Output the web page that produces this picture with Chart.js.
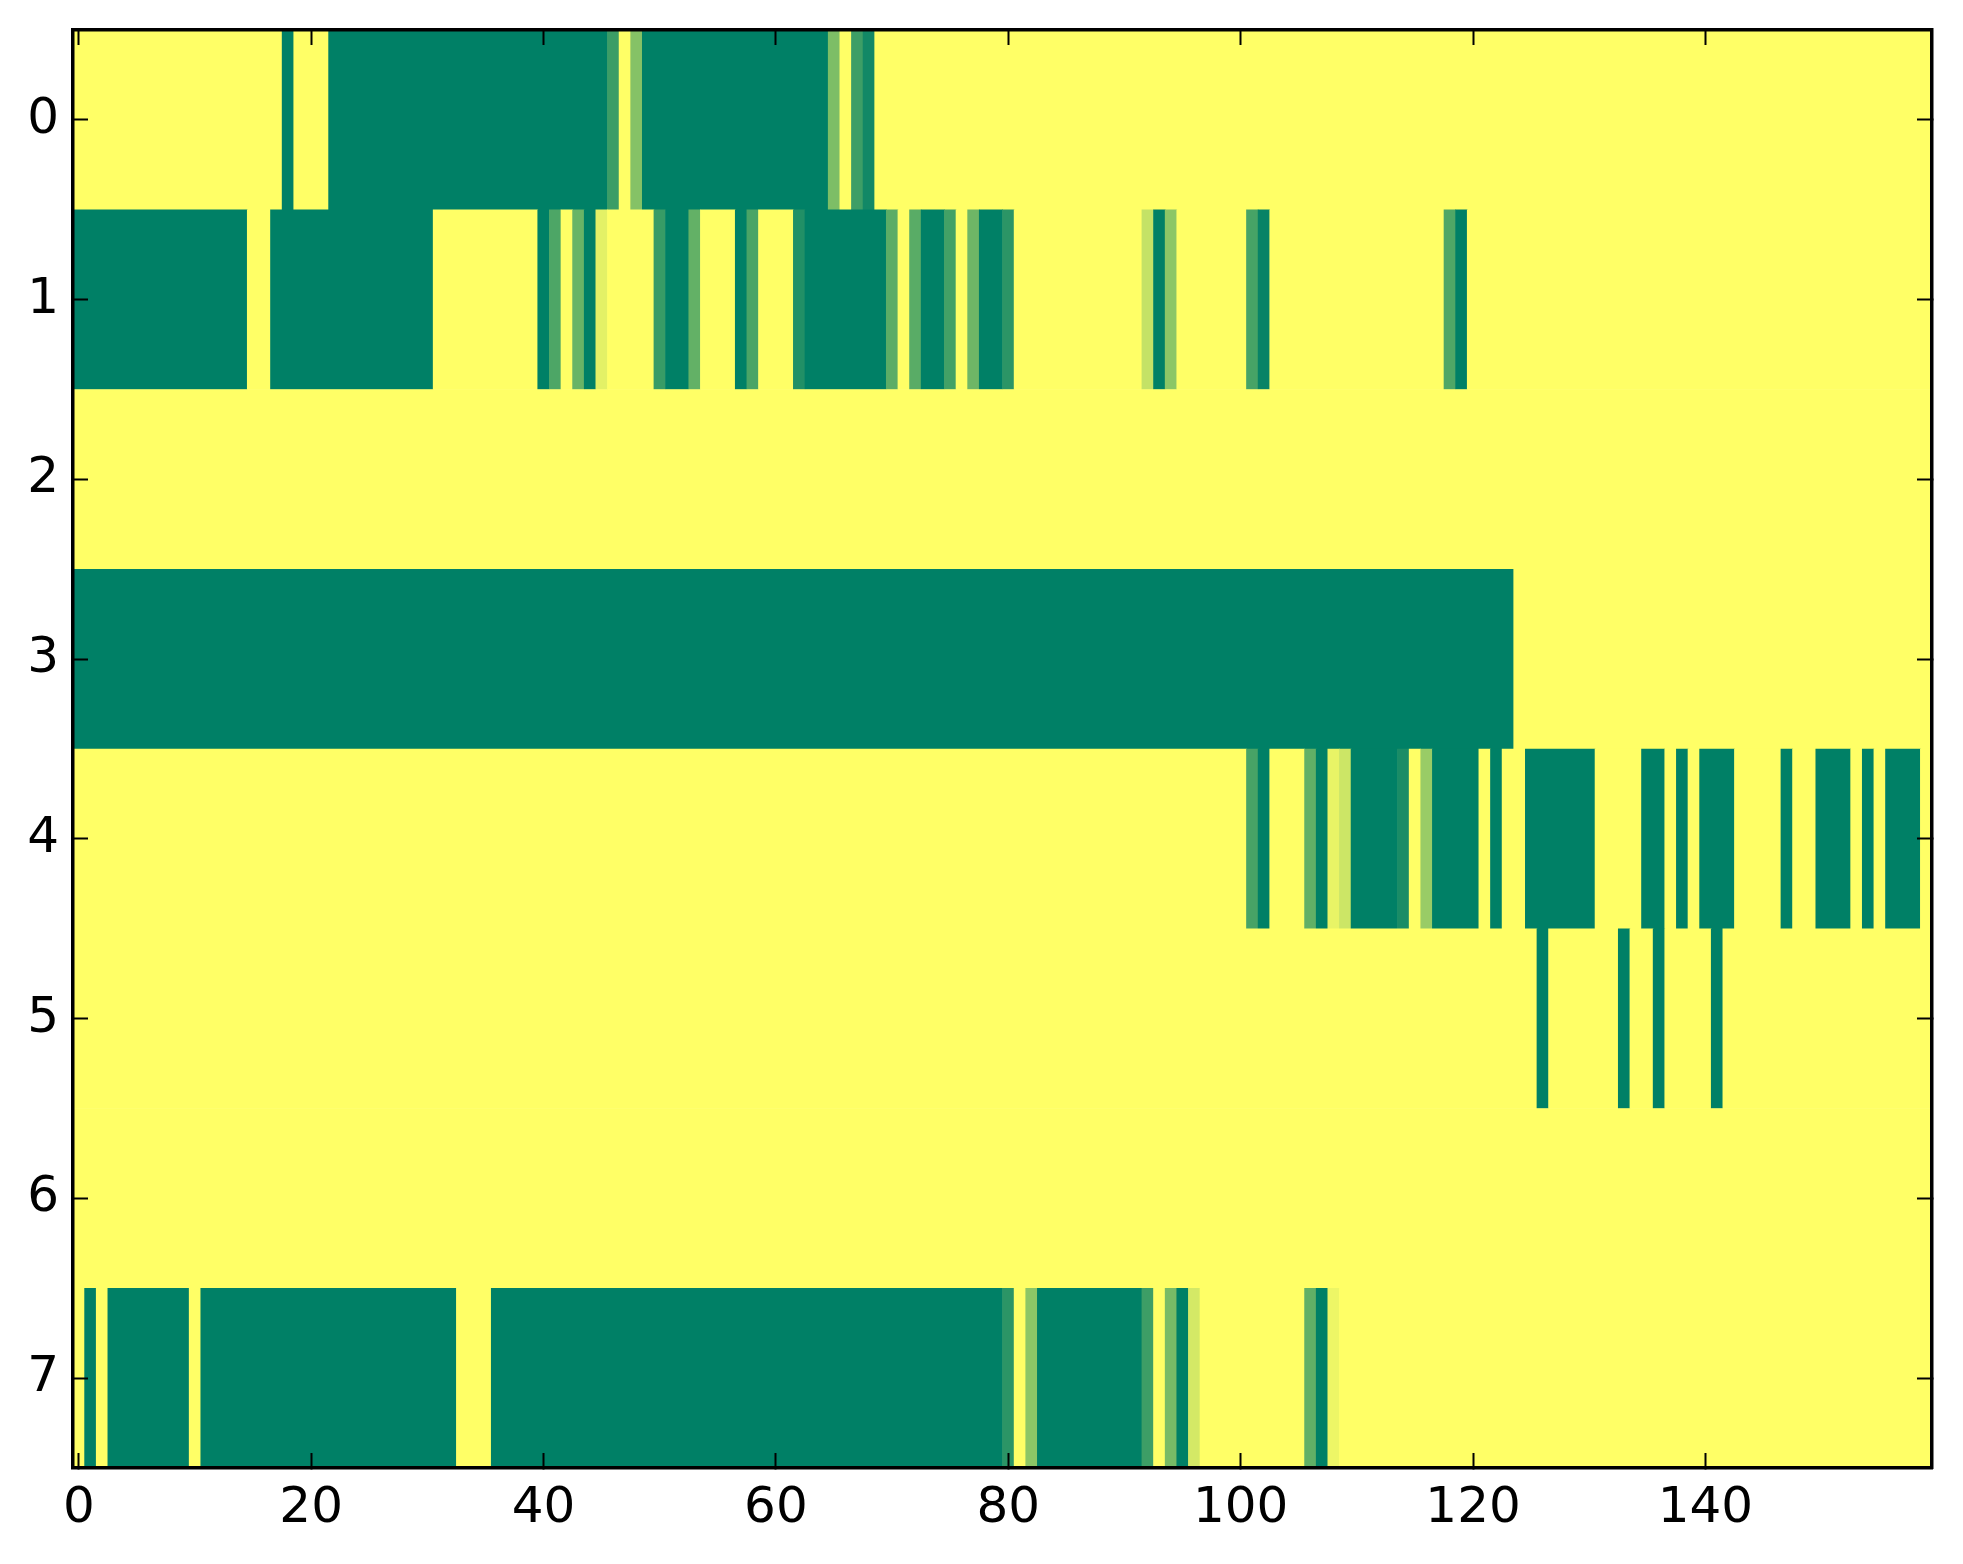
<!DOCTYPE html>
<html>
<head>
<meta charset="utf-8">
<script src="https://cdn.jsdelivr.net/npm/chart.js@4/dist/chart.umd.min.js"></script>
<style>
  html, body { margin: 0; padding: 0; background: #ffffff; }
  #wrap { position: relative; width: 1963px; height: 1564px; }
</style>
</head>
<body>
<div id="wrap"><canvas id="c"></canvas></div>
<script>
// Heatmap rows, stored as runs of [value, number of consecutive columns]
const row0 = [[1,18],[0,1],[1,3],[0,24],[0.23,1],[1,1],[0.52,1],[0,16],[0.49,1],[1,1],[0.24,1],[0.07,1],[1,91]];
const row1 = [[0,15],[1,2],[0,14],[1,9],[0,1],[0.30,1],[1,1],[0.41,1],[0,1],[0.89,1],[1,4],[0.22,1],[0,2],[0.39,1],[1,3],[0,1],[0.29,1],[1,3],[0.13,1],[0,7],[0.36,1],[1,1],[0.35,1],[0,2],[0.26,1],[1,1],[0.43,1],[0,2],[0.17,1],[1,11],[0.77,1],[0,1],[0.55,1],[1,6],[0.28,1],[0.03,1],[1,15],[0.31,1],[0,1],[1,40]];
const row2 = [[1,160]];
const row3 = [[0,124],[1,36]];
const row4 = [[1,101],[0.28,1],[0,1],[1,3],[0.38,1],[0,1],[0.91,1],[0.80,1],[0,4],[0.10,1],[1,1],[0.60,1],[0,4],[1,1],[0,1],[1,2],[0,6],[1,4],[0,2],[1,1],[0,1],[1,1],[0,3],[1,4],[0,1],[1,2],[0,3],[1,1],[0,1],[1,1],[0,3],[1,1]];
const row5 = [[1,126],[0,1],[1,6],[0,1],[1,2],[0,1],[1,4],[0,1],[1,18]];
const row6 = [[1,160]];
const row7 = [[1,1],[0,1],[1,1],[0,7],[1,1],[0,22],[1,3],[0,44],[0.17,1],[1,1],[0.55,1],[0,9],[0.24,1],[1,1],[0.47,1],[0,1],[0.83,1],[1,9],[0.38,1],[0,1],[0.93,1],[1,51]];

const rows = [row0, row1, row2, row3, row4, row5, row6, row7];
const xTickValues = [0, 20, 40, 60, 80, 100, 120, 140];
const yTickValues = [0, 1, 2, 3, 4, 5, 6, 7];
const nCols = 160;

// matplotlib "summer" colormap
function summer(v) {
  const r = Math.round(255 * v);
  const g = Math.round(255 * (0.5 + 0.5 * v));
  const b = Math.round(255 * 0.4);
  return `rgb(${r},${g},${b})`;
}

// Build floating horizontal bars (one per run of equal cells)
const cells = [];
rows.forEach((runs, r) => {
  let start = 0;
  runs.forEach(([v, n]) => {
    cells.push({ x: [start - 0.5, start + n - 0.5], y: r, v: v });
    start += n;
  });
});

const FONT = { family: 'DejaVu Sans', size: 50 };
const fixedTicks = vals => axis => { axis.ticks = vals.map(v => ({ value: v })); };
const fitTo = (w, h) => s => {
  if (w !== null) s.width = w;
  if (h !== null) s.height = h;
  s.paddingTop = 0; s.paddingBottom = 0; s.paddingLeft = 0; s.paddingRight = 0;
};
const gridOpts = { drawOnChartArea: false, offset: false, tickLength: -15, tickWidth: 2, color: '#000000', z: 1 };
const borderOpts = { display: true, color: '#000000', width: 3.5, z: 2 };

new Chart(document.getElementById('c'), {
  type: 'bar',
  data: {
    datasets: [{
      data: cells,
      backgroundColor: ctx => summer(ctx.raw ? ctx.raw.v : 1),
      borderWidth: 0,
      barPercentage: 1,
      categoryPercentage: 1,
      xAxisID: 'x',
      yAxisID: 'y'
    }]
  },
  options: {
    indexAxis: 'y',
    responsive: true,
    maintainAspectRatio: false,
    animation: false,
    devicePixelRatio: 1,
    layout: { padding: 0 },
    plugins: { legend: { display: false }, tooltip: { enabled: false } },
    scales: {
      x: {
        type: 'linear', position: 'bottom', min: -0.5, max: nCols - 0.5, offset: false,
        afterBuildTicks: fixedTicks(xTickValues),
        afterFit: fitTo(null, 96),
        grid: gridOpts, border: borderOpts,
        ticks: { color: '#000000', font: FONT, padding: 26, maxRotation: 0, autoSkip: false, z: 1 }
      },
      x2: {
        type: 'linear', position: 'top', min: -0.5, max: nCols - 0.5, offset: false,
        afterBuildTicks: fixedTicks(xTickValues),
        afterFit: fitTo(null, 30),
        grid: gridOpts, border: borderOpts,
        ticks: { display: false }
      },
      y: {
        type: 'linear', position: 'left', min: -0.5, max: 7.5, reverse: true, offset: false,
        afterBuildTicks: fixedTicks(yTickValues),
        afterFit: fitTo(73, null),
        grid: gridOpts, border: borderOpts,
        ticks: { color: '#000000', font: FONT, padding: 29, autoSkip: false, z: 1 }
      },
      y2: {
        type: 'linear', position: 'right', min: -0.5, max: 7.5, reverse: true, offset: false,
        afterBuildTicks: fixedTicks(yTickValues),
        afterFit: fitTo(31, null),
        grid: gridOpts, border: borderOpts,
        ticks: { display: false }
      }
    }
  }
});
</script>
</body>
</html>
